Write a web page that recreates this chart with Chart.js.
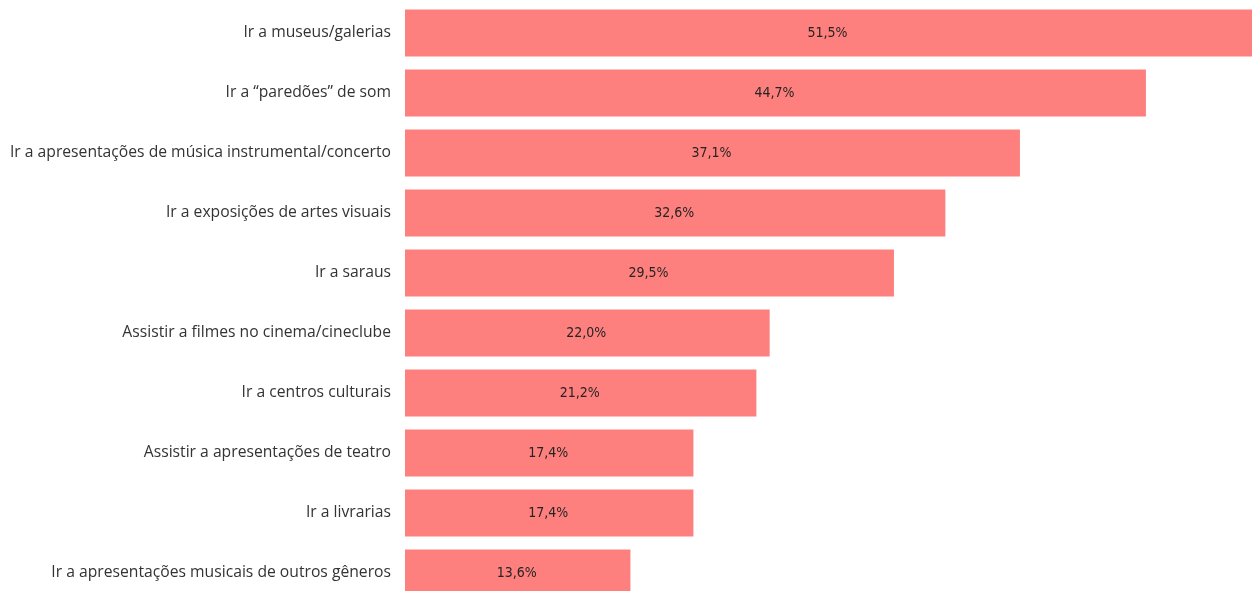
<!DOCTYPE html>
<html>
<head>
<meta charset="utf-8">
<script src="https://cdn.jsdelivr.net/npm/chart.js@4"></script>
<style>
  html, body { margin: 0; padding: 0; background: #fff; overflow: hidden; }
  canvas { display: block; }
</style>
</head>
<body>
<canvas id="c" width="1252" height="603"></canvas>
<script>
// categorias e valores (%)
const categorias = [
  'Ir a museus/galerias',
  'Ir a \u201cparedões\u201d de som',
  'Ir a apresentações de música instrumental/concerto',
  'Ir a exposições de artes visuais',
  'Ir a saraus',
  'Assistir a filmes no cinema/cineclube',
  'Ir a centros culturais',
  'Assistir a apresentações de teatro',
  'Ir a livrarias',
  'Ir a apresentações musicais de outros gêneros'
];
const valores = [51.5, 44.7, 37.1, 32.6, 29.5, 22.0, 21.2, 17.4, 17.4, 13.6];

// rótulo de valor no centro da parte visível da barra
const rotulos = {
  id: 'rotulos',
  afterDatasetsDraw(chart) {
    const ctx = chart.ctx;
    const meta = chart.getDatasetMeta(0);
    const dir = chart.chartArea.right;
    ctx.save();
    ctx.font = '14px "DejaVu Sans Condensed", "Liberation Sans Narrow", sans-serif';
    ctx.fillStyle = '#252423';
    ctx.textAlign = 'center';
    ctx.textBaseline = 'middle';
    meta.data.forEach((bar, i) => {
      const txt = valores[i].toFixed(1).replace('.', ',') + '%';
      ctx.fillText(txt, (bar.base + Math.min(bar.x, dir)) / 2 - 1, bar.y);
    });
    ctx.restore();
  }
};

new Chart(document.getElementById('c'), {
  type: 'bar',
  data: {
    labels: categorias,
    datasets: [{ data: valores, backgroundColor: '#FD807F', barPercentage: 0.783, categoryPercentage: 1 }]
  },
  options: {
    indexAxis: 'y',
    responsive: false, animation: false, devicePixelRatio: 1,
    layout: { padding: { top: 3, left: 0, right: 0, bottom: 0 } },
    plugins: { legend: { display: false }, tooltip: { enabled: false } },
    scales: {
      x: { display: false, min: 0, max: 51.1 },
      y: {
        grid: { display: false, drawTicks: false }, border: { display: false },
        ticks: { color: '#333', padding: 14, font: { size: 15.7, family: '"Open Sans", sans-serif' } },
        afterFit(scale) { scale.width = 405; scale.paddingTop = 0; scale.paddingBottom = 0; }
      }
    }
  },
  plugins: [rotulos]
});
</script>
</body>
</html>
